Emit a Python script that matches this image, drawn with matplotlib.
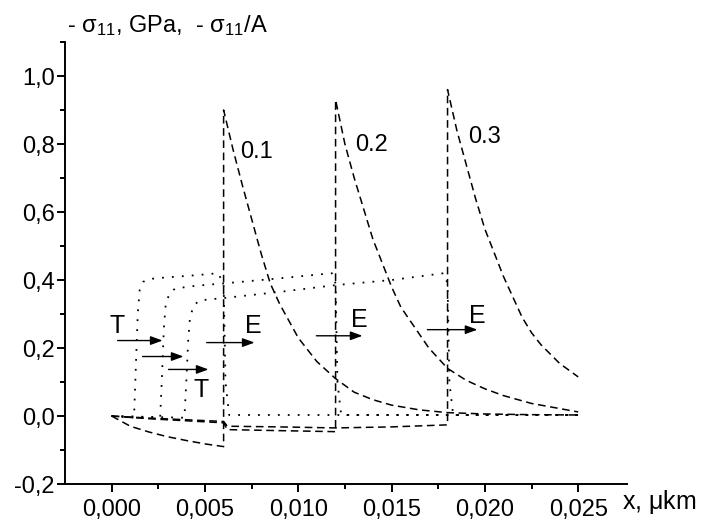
import matplotlib
matplotlib.use("Agg")
import matplotlib.pyplot as plt
from matplotlib.ticker import MultipleLocator, FixedLocator, FuncFormatter

plt.rcParams['font.family'] = ['Liberation Sans', 'DejaVu Sans']
plt.rcParams['mathtext.fontset'] = 'custom'
plt.rcParams['mathtext.rm'] = 'Liberation Sans'
plt.rcParams['mathtext.it'] = 'Liberation Sans'

# dashed curves: stress, E-shift at 0.006 / 0.012 / 0.018
e1_x = [0, 0.001, 0.002, 0.003, 0.004, 0.005, 0.006,
        0.006, 0.0065, 0.0070, 0.0075, 0.0080, 0.0085, 0.0090, 0.0095, 0.0100,
        0.0110, 0.0120, 0.0130, 0.0140, 0.0150, 0.0165, 0.0180, 0.0200, 0.0225, 0.0250]
e1_y = [0, -0.03, -0.047, -0.061, -0.072, -0.082, -0.09,
        0.90, 0.785, 0.68, 0.58, 0.48, 0.39, 0.33, 0.28, 0.23,
        0.16, 0.11, 0.07, 0.048, 0.032, 0.018, 0.010, 0.006, 0.004, 0.003]

e2_x = [0, 0.002, 0.004, 0.006, 0.0062, 0.009, 0.012,
        0.012, 0.0125, 0.0130, 0.0135, 0.0140, 0.0145, 0.0150, 0.0155, 0.0160,
        0.0170, 0.0180, 0.0190, 0.0200, 0.0210, 0.0225, 0.0250]
e2_y = [0, -0.008, -0.014, -0.02, -0.04, -0.043, -0.046,
        0.93, 0.80, 0.70, 0.61, 0.52, 0.45, 0.38, 0.32, 0.28,
        0.20, 0.14, 0.105, 0.08, 0.06, 0.037, 0.012]

e3_x = [0, 0.002, 0.004, 0.006, 0.0062, 0.009, 0.012, 0.015, 0.018,
        0.018, 0.0185, 0.0190, 0.0195, 0.0200, 0.0205, 0.0210, 0.0215, 0.0220,
        0.0225, 0.0230, 0.0240, 0.0250]
e3_y = [0, -0.006, -0.011, -0.016, -0.03, -0.032, -0.035, -0.032, -0.026,
        0.96, 0.84, 0.74, 0.64, 0.55, 0.48, 0.41, 0.35, 0.29,
        0.245, 0.21, 0.155, 0.115]

# dotted curves: sigma/A
t1_x = [0, 0.0012, 0.0013, 0.0014, 0.0015, 0.0017, 0.0020, 0.0030, 0.0045,
        0.0057, 0.0060, 0.0061, 0.0063, 0.0250]
t1_y = [0, -0.005, 0.15, 0.30, 0.37, 0.395, 0.403, 0.408, 0.414,
        0.42, 0.39, 0.10, 0.003, 0.003]

t2_x = [0, 0.0026, 0.0027, 0.0028, 0.0029, 0.0031, 0.0034, 0.0045, 0.0060,
        0.0090, 0.0118, 0.0120, 0.0121, 0.0123, 0.0250]
t2_y = [0, -0.005, 0.12, 0.26, 0.33, 0.36, 0.375, 0.383, 0.39,
        0.405, 0.42, 0.39, 0.10, 0.003, 0.003]

t3_x = [0, 0.0039, 0.0040, 0.0041, 0.0042, 0.0044, 0.0047, 0.0060, 0.0090,
        0.0120, 0.0150, 0.0178, 0.0180, 0.0181, 0.0183, 0.0250]
t3_y = [0, -0.005, 0.10, 0.22, 0.29, 0.325, 0.34, 0.347, 0.365,
        0.385, 0.40, 0.42, 0.39, 0.10, 0.003, 0.003]

curve_labels = ["0.1", "0.2", "0.3"]
curve_label_pos = [(0.00776, 0.778), (0.0139, 0.798), (0.01997, 0.822)]

arrows = [((0.00032, 0.222), (0.00273, 0.222)),
          ((0.00166, 0.175), (0.00385, 0.175)),
          ((0.00305, 0.137), (0.00519, 0.137)),
          ((0.00509, 0.216), (0.00766, 0.216)),
          ((0.01097, 0.236), (0.01344, 0.236)),
          ((0.01692, 0.254), (0.0196, 0.254))]
arrow_text = [("T", 0.00027, 0.265), ("T", 0.0048, 0.078),
              ("E", 0.0076, 0.265), ("E", 0.01325, 0.283), ("E", 0.01958, 0.294)]

fig = plt.figure(figsize=(7.01, 5.24), dpi=100)
ax = fig.add_axes([0.0927, 0.0763, 0.8013, 0.8435])

dash = (0, (5, 3))
dot = (0, (1, 4.5))
for xs, ys in [(e1_x, e1_y), (e2_x, e2_y), (e3_x, e3_y)]:
    ax.plot(xs, ys, color='black', lw=1.1, linestyle=dash)
for xs, ys in [(t1_x, t1_y), (t2_x, t2_y), (t3_x, t3_y)]:
    ax.plot(xs, ys, color='black', lw=1.3, linestyle=dot)

for lab, (x, y) in zip(curve_labels, curve_label_pos):
    ax.text(x, y, lab, fontsize=17, ha='center', va='center')

for start, end in arrows:
    ax.annotate('', xy=end, xytext=start,
                arrowprops=dict(arrowstyle='-|>,head_length=0.6,head_width=0.22',
                                color='black', lw=1.0, mutation_scale=12,
                                shrinkA=0, shrinkB=0))
for lab, x, y in arrow_text:
    ax.text(x, y, lab, fontsize=18, ha='center', va='center')

ax.set_xlim(-0.0025, 0.0276)
ax.set_ylim(-0.2, 1.1)
ax.xaxis.set_major_locator(FixedLocator([0, 0.005, 0.01, 0.015, 0.02, 0.025]))
ax.xaxis.set_minor_locator(FixedLocator([0.0025, 0.0075, 0.0125, 0.0175, 0.0225]))
ax.yaxis.set_major_locator(MultipleLocator(0.2))
ax.yaxis.set_minor_locator(FixedLocator([-0.1, 0.1, 0.3, 0.5, 0.7, 0.9, 1.1]))
ax.xaxis.set_major_formatter(FuncFormatter(lambda v, p: f"{v:.3f}".replace('.', ',')))
ax.yaxis.set_major_formatter(FuncFormatter(lambda v, p: f"{v:.1f}".replace('.', ',').replace('-0,0', '0,0')))

for side in ['top', 'right']:
    ax.spines[side].set_visible(False)
for side in ['left', 'bottom']:
    ax.spines[side].set_linewidth(1.4)
ax.tick_params(which='major', direction='out', length=6, width=1.4, labelsize=17)
ax.tick_params(which='minor', direction='out', length=3.5, width=1.4)
ax.tick_params(axis='x', which='major', pad=5)
ax.tick_params(axis='y', which='major', pad=1.5)

fig.text(0.0956, 0.952, r"- $\mathregular{\sigma_{11}}$, GPa,  - $\mathregular{\sigma_{11}}$/A",
         fontsize=17, ha='left', va='center')
fig.text(0.888, 0.042, r"x, $\mathregular{\mu}$km", fontsize=18, ha='left', va='center')

fig.savefig("out.png", dpi=100)
